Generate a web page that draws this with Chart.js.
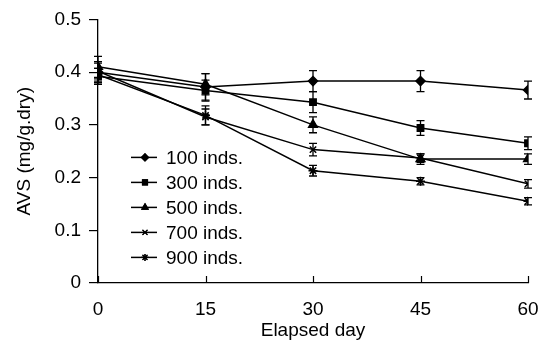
<!DOCTYPE html>
<html><head><meta charset="utf-8">
<script src="https://cdn.jsdelivr.net/npm/chart.js@4/dist/chart.umd.min.js"></script>
<style>html,body{margin:0;padding:0;background:#fff}#wrap{width:547px;height:349px}</style>
</head><body><div id="wrap"><canvas id="c" width="547" height="349"></canvas></div>
<script>
const days = [0, 15, 30, 45, 60];
const seriesLabels = ["100 inds.", "300 inds.", "500 inds.", "700 inds.", "900 inds."];
const avs100 = [0.400, 0.372, 0.383, 0.383, 0.366];
const avs300 = [0.392, 0.365, 0.343, 0.294, 0.265];
const avs500 = [0.410, 0.377, 0.300, 0.235, 0.235];
const avs700 = [0.402, 0.315, 0.253, 0.237, 0.188];
const avs900 = [0.395, 0.318, 0.213, 0.193, 0.155];
const err100 = [0.020, 0.025, 0.020, 0.020, 0.017];
const err300 = [0.015, 0.020, 0.020, 0.014, 0.012];
const err500 = [0.020, 0.020, 0.015, 0.010, 0.010];
const err700 = [0.015, 0.015, 0.012, 0.008, 0.008];
const err900 = [0.012, 0.018, 0.010, 0.007, 0.007];
const yTicks = [0, 0.1, 0.2, 0.3, 0.4, 0.5];
const xTicks = [0, 15, 30, 45, 60];

const FONT = "'Liberation Sans', Arial, sans-serif";
const styles = ["rectRot", "rect", "triangle", "crossRot", "star"];
const radii = [4.5, 4.5, 5, 4.5, 4.5];
const allVals = [avs100, avs300, avs500, avs700, avs900];
const allErr = [err100, err300, err500, err700, err900];

const datasets = allVals.map((v, i) => ({
  label: seriesLabels[i],
  data: days.map((d, j) => ({x: d, y: v[j]})),
  err: allErr[i],
  borderColor: "#000", backgroundColor: "#000",
  borderWidth: 1.5, pointStyle: styles[i], pointRadius: radii[i],
  pointBorderColor: "#000", pointBackgroundColor: "#000", pointBorderWidth: 1.5,
  tension: 0, fill: false
}));

const errorBars = {
  id: "errorBars",
  afterDatasetsDraw(chart) {
    const ctx = chart.ctx, xs = chart.scales.x, ys = chart.scales.y;
    ctx.save(); ctx.strokeStyle = "#000"; ctx.lineWidth = 1.3;
    chart.data.datasets.forEach(ds => {
      ds.data.forEach((p, j) => {
        const e = ds.err[j];
        const x = xs.getPixelForValue(p.x);
        const y1 = ys.getPixelForValue(p.y + e), y2 = ys.getPixelForValue(p.y - e);
        ctx.beginPath();
        ctx.moveTo(x, y1); ctx.lineTo(x, y2);
        ctx.moveTo(x - 4, y1); ctx.lineTo(x + 4, y1);
        ctx.moveTo(x - 4, y2); ctx.lineTo(x + 4, y2);
        ctx.stroke();
      });
    });
    ctx.restore();
  }
};

function drawMarker(ctx, style, r, x, y) {
  if (Chart.helpers && Chart.helpers.drawPoint) {
    Chart.helpers.drawPoint(ctx, {pointStyle: style, radius: r, borderWidth: 1.2, rotation: 0}, x, y);
    ctx.fill(); ctx.stroke();
  }
}

const xTicksIn = {
  id: "xTicksIn",
  afterDraw(chart) {
    const ctx = chart.ctx, xs = chart.scales.x, ca = chart.chartArea;
    ctx.save(); ctx.strokeStyle = "#000"; ctx.lineWidth = 1.2;
    xTicks.forEach(t => {
      const x = Math.round(xs.getPixelForValue(t)) + 0.5;
      ctx.beginPath(); ctx.moveTo(x, ca.bottom); ctx.lineTo(x, ca.bottom - 7); ctx.stroke();
    });
    // legend
    const lx = ca.left + 33, ly0 = ca.top + 138, dy = 25;
    ctx.font = "19px " + FONT; ctx.fillStyle = "#000"; ctx.textBaseline = "middle"; ctx.textAlign = "left";
    chart.data.datasets.forEach((ds, i) => {
      const y = ly0 + i * dy;
      ctx.lineWidth = 1.5; ctx.strokeStyle = "#000";
      ctx.beginPath(); ctx.moveTo(lx, y); ctx.lineTo(lx + 26, y); ctx.stroke();
      ctx.fillStyle = "#000";
      ctx.lineWidth = 1.2;
      drawMarker(ctx, styles[i], 3.5, lx + 14, y);
      ctx.fillStyle = "#000";
      ctx.fillText(ds.label, lx + 35, y + 1);
    });
    ctx.restore();
  }
};

new Chart(document.getElementById("c"), {
  type: "line",
  data: {datasets},
  plugins: [errorBars, xTicksIn],
  options: {
    responsive: false, animation: false, devicePixelRatio: 1,
    layout: {padding: {top: 16, right: 19, left: 0, bottom: 0}},
    plugins: {legend: {display: false}, tooltip: {enabled: false}},
    scales: {
      x: {
        type: "linear", min: 0, max: 60,
        afterBuildTicks: s => { s.ticks = xTicks.map(v => ({value: v})); },
        afterFit: s => { s.height = 66; s.paddingRight = 0; s.paddingLeft = 0; },
        grid: {display: true, drawOnChartArea: false, drawTicks: false},
        border: {color: "#000", width: 1.3},
        ticks: {color: "#000", font: {size: 19, family: FONT}, padding: 15, maxRotation: 0},
        title: {display: true, text: "Elapsed day", color: "#000", font: {size: 19, family: FONT}, padding: {top: 0, bottom: 7}}
      },
      y: {
        min: 0, max: 0.5,
        afterBuildTicks: s => { s.ticks = yTicks.map(v => ({value: v})); },
        afterFit: s => { s.width = 98; },
        grid: {display: true, drawOnChartArea: false, drawTicks: true, tickLength: 9, color: "#000", lineWidth: 1.2},
        border: {color: "#000", width: 1.3},
        ticks: {color: "#000", font: {size: 19, family: FONT}, padding: 8, callback: v => String(+v.toFixed(1))},
        title: {display: true, text: "AVS (mg/g.dry)", color: "#000", font: {size: 19, family: FONT}, padding: {top: 13, bottom: 4}}
      }
    }
  }
});
</script></body></html>
